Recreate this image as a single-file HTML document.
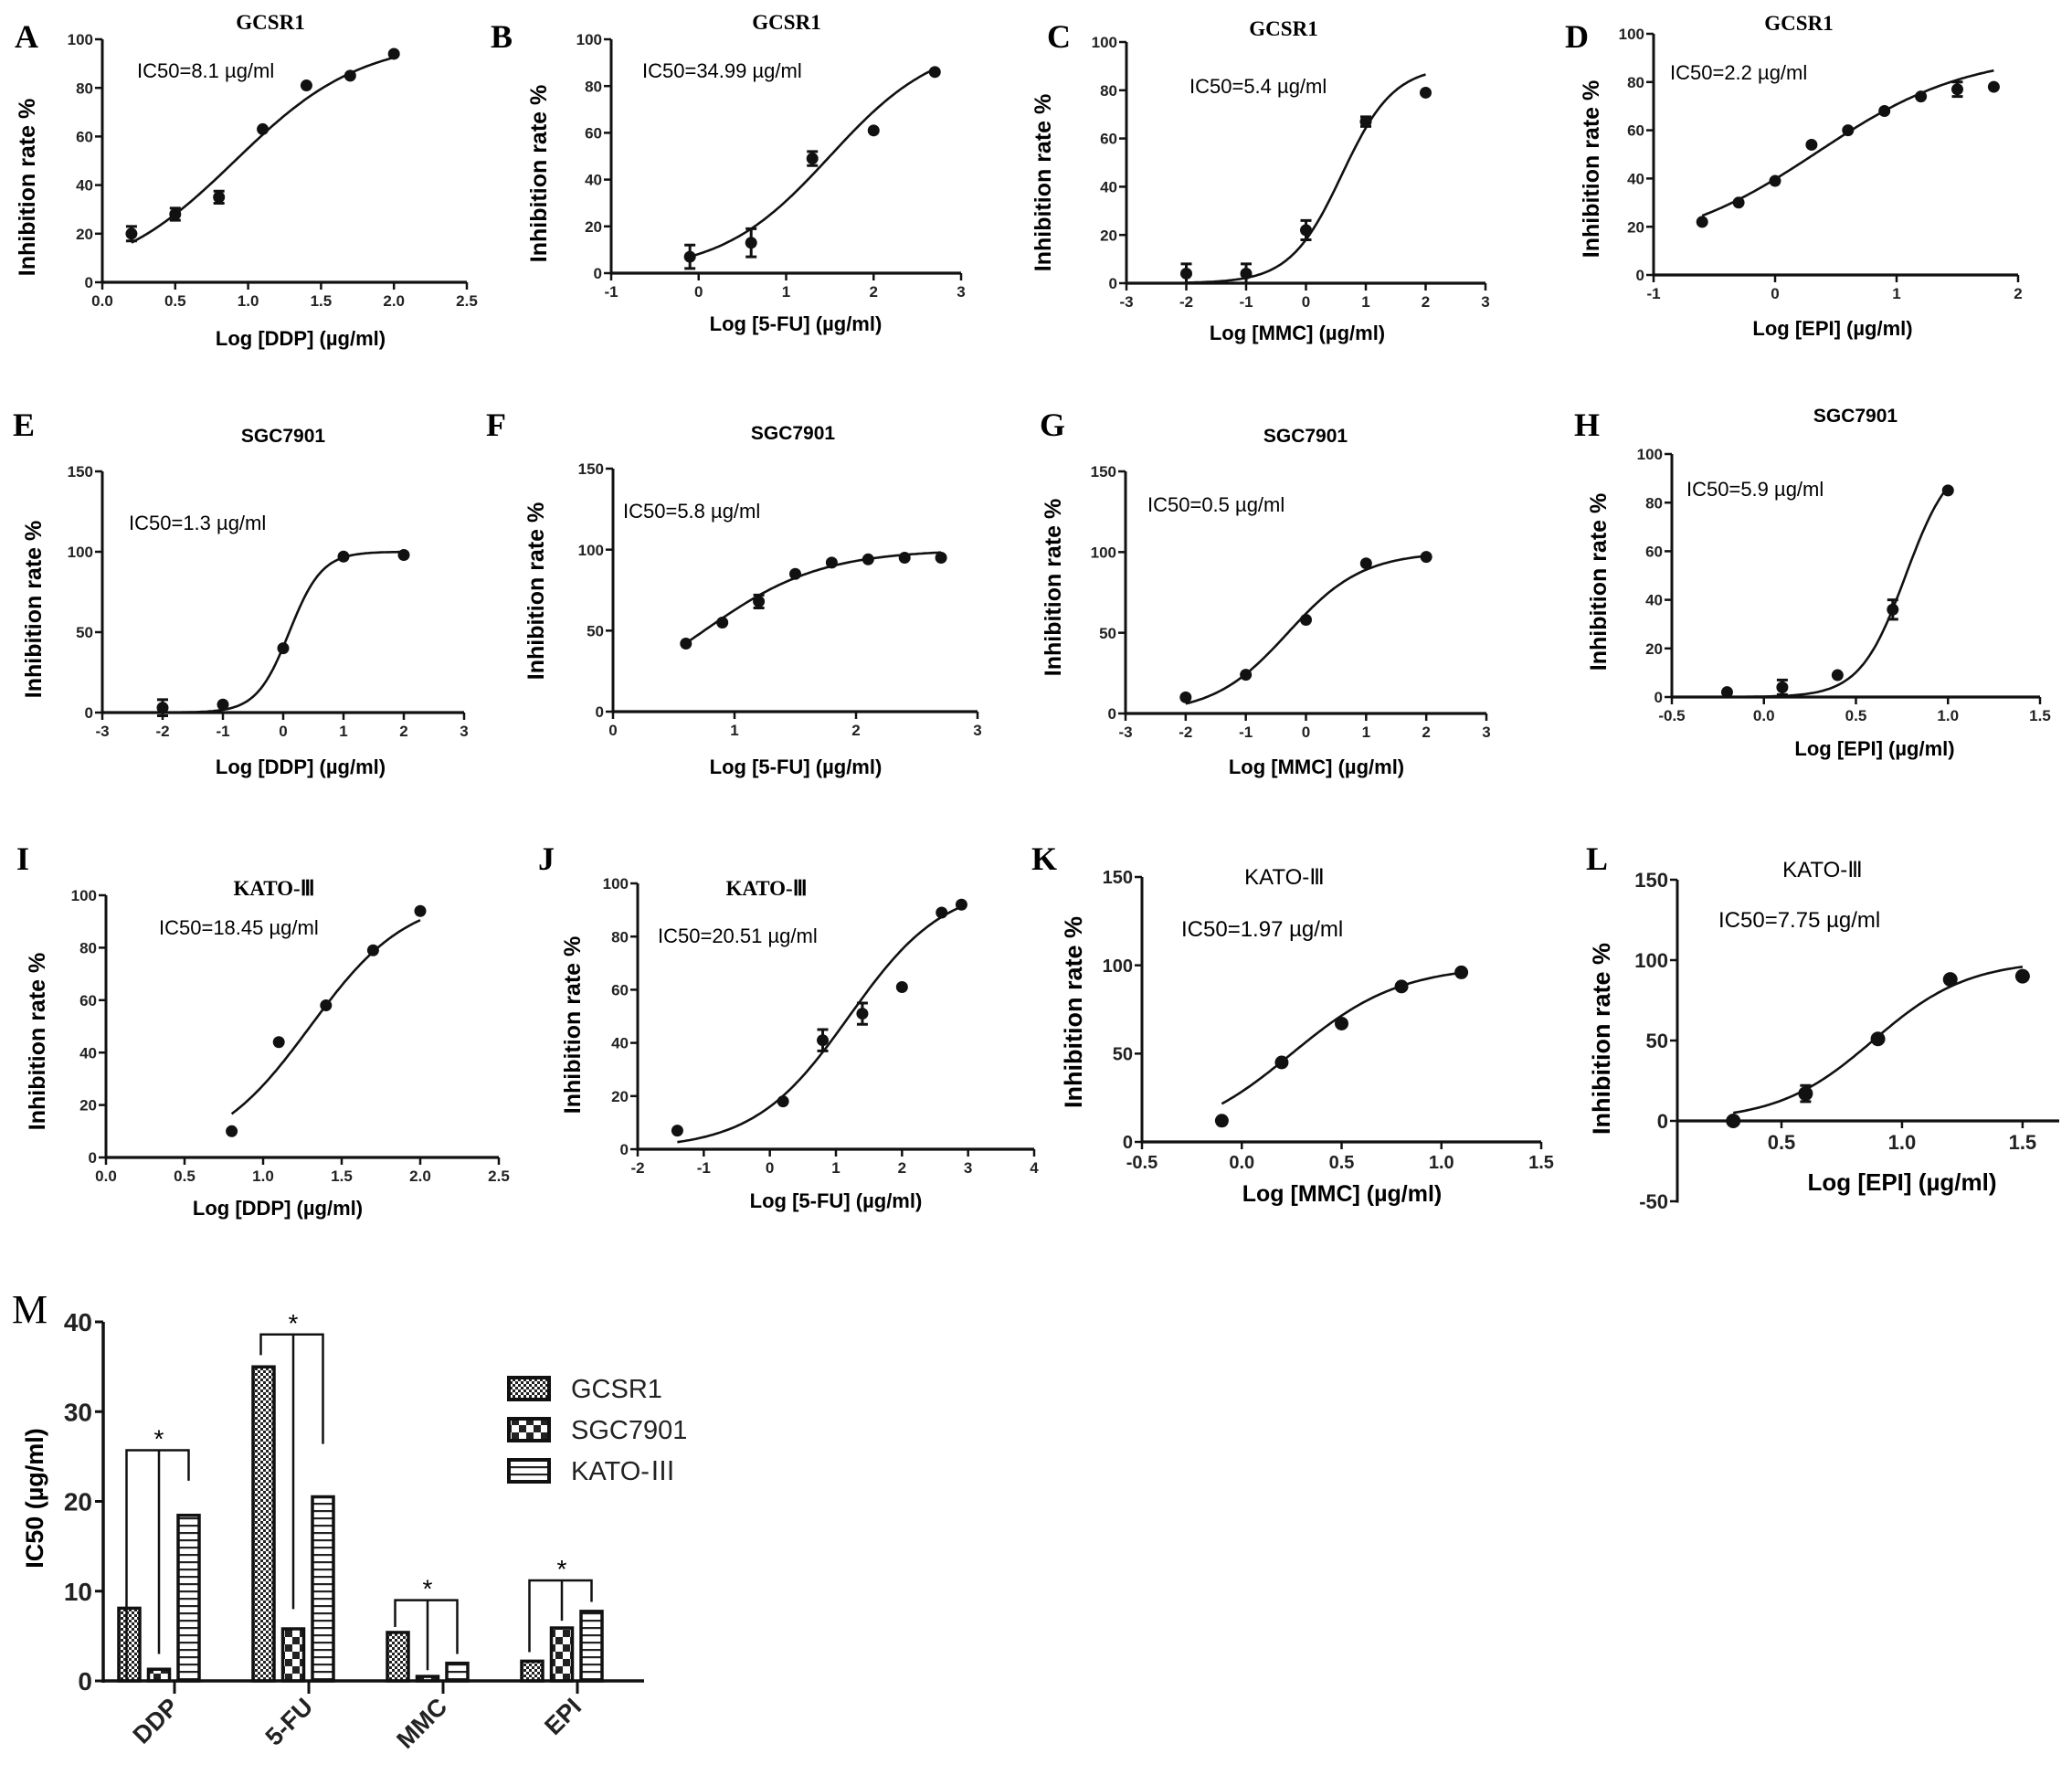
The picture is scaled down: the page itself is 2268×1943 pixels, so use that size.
<!DOCTYPE html>
<html><head><meta charset="utf-8"><style>
html,body{margin:0;padding:0;background:#fff}
svg{display:block}
.tk{font-family:"Liberation Sans",sans-serif;font-weight:bold;fill:#222}
.ttl{font-family:"Liberation Serif",serif;font-weight:bold;font-size:23px;text-anchor:middle}
.ttls{font-family:"Liberation Sans",sans-serif;font-weight:bold;font-size:21px;text-anchor:middle}
.ttlk{font-family:"Liberation Sans",sans-serif;font-size:24px;text-anchor:middle}
.let{font-family:"Liberation Serif",serif;font-weight:bold;font-size:36px}
.ic{font-family:"Liberation Sans",sans-serif;font-size:22px}
.xt{font-family:"Liberation Sans",sans-serif;font-weight:bold;font-size:22px;text-anchor:middle}
.yt{font-family:"Liberation Sans",sans-serif;font-weight:bold;font-size:25px;text-anchor:middle}
</style></head><body>
<svg id="fig" width="2268" height="1943" viewBox="0 0 2268 1943" xmlns="http://www.w3.org/2000/svg">
<defs>
<pattern id="pGC" width="6" height="6" patternUnits="userSpaceOnUse"><rect width="6" height="6" fill="#fff"/><rect width="3" height="3" fill="#222"/><rect x="3" y="3" width="3" height="3" fill="#222"/></pattern>
<pattern id="pSG" width="16" height="16" patternUnits="userSpaceOnUse"><rect width="16" height="16" fill="#fff"/><rect width="8" height="8" fill="#222"/><rect x="8" y="8" width="8" height="8" fill="#222"/></pattern>
<pattern id="pKA" width="8" height="8" patternUnits="userSpaceOnUse"><rect width="8" height="8" fill="#fff"/><rect y="5" width="8" height="2.2" fill="#222"/></pattern>
</defs>
<g id="static">
<text class="let" x="16" y="52">A</text>
<text class="let" x="537" y="52">B</text>
<text class="let" x="1146" y="52">C</text>
<text class="let" x="1713" y="52">D</text>
<text class="let" x="14" y="477">E</text>
<text class="let" x="532" y="477">F</text>
<text class="let" x="1138" y="477">G</text>
<text class="let" x="1723" y="477">H</text>
<text class="let" x="18" y="952">I</text>
<text class="let" x="589" y="952">J</text>
<text class="let" x="1129" y="952">K</text>
<text class="let" x="1736" y="952">L</text>
<text x="13" y="1448" style="font-family:'Liberation Serif',serif;font-size:44px">M</text>

<text class="ttl" x="296" y="32">GCSR1</text>
<text class="ttl" x="861" y="32">GCSR1</text>
<text class="ttl" x="1405" y="39">GCSR1</text>
<text class="ttl" x="1969" y="33">GCSR1</text>
<text class="ttls" x="310" y="484">SGC7901</text>
<text class="ttls" x="868" y="481">SGC7901</text>
<text class="ttls" x="1429" y="484">SGC7901</text>
<text class="ttls" x="2031" y="462">SGC7901</text>
<text class="ttl" x="300" y="980">KATO-Ⅲ</text>
<text class="ttl" x="839" y="980">KATO-Ⅲ</text>
<text class="ttlk" x="1406" y="968">KATO-Ⅲ</text>
<text class="ttlk" x="1995" y="960">KATO-Ⅲ</text>

<text class="ic" x="150" y="85">IC50=8.1 µg/ml</text>
<text class="ic" x="703" y="85">IC50=34.99 µg/ml</text>
<text class="ic" x="1302" y="102">IC50=5.4 µg/ml</text>
<text class="ic" x="1828" y="87">IC50=2.2 µg/ml</text>
<text class="ic" x="141" y="580">IC50=1.3 µg/ml</text>
<text class="ic" x="682" y="567">IC50=5.8 µg/ml</text>
<text class="ic" x="1256" y="560">IC50=0.5 µg/ml</text>
<text class="ic" x="1846" y="543">IC50=5.9 µg/ml</text>
<text class="ic" x="174" y="1023">IC50=18.45 µg/ml</text>
<text class="ic" x="720" y="1032">IC50=20.51 µg/ml</text>
<text class="ic" x="1293" y="1025" style="font-size:24px">IC50=1.97 µg/ml</text>
<text class="ic" x="1881" y="1015" style="font-size:24px">IC50=7.75 µg/ml</text>

<text class="xt" x="329" y="378">Log [DDP] (µg/ml)</text>
<text class="xt" x="871" y="362">Log [5-FU] (µg/ml)</text>
<text class="xt" x="1420" y="372">Log [MMC] (µg/ml)</text>
<text class="xt" x="2006" y="367">Log [EPI] (µg/ml)</text>
<text class="xt" x="329" y="847">Log [DDP] (µg/ml)</text>
<text class="xt" x="871" y="847">Log [5-FU] (µg/ml)</text>
<text class="xt" x="1441" y="847">Log [MMC] (µg/ml)</text>
<text class="xt" x="2052" y="827">Log [EPI] (µg/ml)</text>
<text class="xt" x="304" y="1330">Log [DDP] (µg/ml)</text>
<text class="xt" x="915" y="1322">Log [5-FU] (µg/ml)</text>
<text class="xt" x="1469" y="1315" style="font-size:25px">Log [MMC] (µg/ml)</text>
<text class="xt" x="2082" y="1303" style="font-size:26px">Log [EPI] (µg/ml)</text>

<text class="yt" transform="translate(38,205) rotate(-90)">Inhibition rate %</text>
<text class="yt" transform="translate(598,190) rotate(-90)">Inhibition rate %</text>
<text class="yt" transform="translate(1150,200) rotate(-90)">Inhibition rate %</text>
<text class="yt" transform="translate(1750,185) rotate(-90)">Inhibition rate %</text>
<text class="yt" transform="translate(45,667) rotate(-90)">Inhibition rate %</text>
<text class="yt" transform="translate(595,647) rotate(-90)">Inhibition rate %</text>
<text class="yt" transform="translate(1161,643) rotate(-90)">Inhibition rate %</text>
<text class="yt" transform="translate(1758,637) rotate(-90)">Inhibition rate %</text>
<text class="yt" transform="translate(49,1140) rotate(-90)">Inhibition rate %</text>
<text class="yt" transform="translate(635,1122) rotate(-90)">Inhibition rate %</text>
<text class="yt" transform="translate(1184,1108) rotate(-90)" style="font-size:27px">Inhibition rate %</text>
<text class="yt" transform="translate(1762,1137) rotate(-90)" style="font-size:27px">Inhibition rate %</text>

<text class="yt" transform="translate(47,1640) rotate(-90)" style="font-size:27px">IC50 (µg/ml)</text>
</g>
</svg>
<script>
// ---------- data ----------
const aX=[0.2,0.5,0.8,1.1,1.4,1.7,2.0]; const aY=[20,28,35,63,81,85,94]; const aE=[3,2.5,2.5,0,0,0,0]; const aFit=[0,100,0.91,1.0];
const bX=[-0.1,0.6,1.3,2.0,2.7]; const bY=[7,13,49,61,86]; const bE=[5,6,3,0,0]; const bFit=[0,100,1.5,0.7];
const cX=[-2,-1,0,1,2]; const cY=[4,4,22,67,79]; const cE=[4,4,4,2,0]; const cFit=[0,90,0.6,1.0];
const dX=[-0.6,-0.3,0,0.3,0.6,0.9,1.2,1.5,1.8]; const dY=[22,30,39,54,60,68,74,77,78]; const dE=[0,0,0,0,0,0,0,3,0]; const dFit=[10,92,0.35,0.7];
const eX=[-2,-1,0,1,2]; const eY=[3,5,40,97,98]; const eE=[5,0,0,0,0]; const eFit=[0,100,0.1,1.6];
const fX=[0.6,0.9,1.2,1.5,1.8,2.1,2.4,2.7]; const fY=[42,55,68,85,92,94,95,95]; const fE=[0,0,4,0,0,0,0,0]; const fFit=[0,100,0.75,0.9];
const gX=[-2,-1,0,1,2]; const gY=[10,24,58,93,97]; const gE=[0,0,0,0,0]; const gFit=[0,100,-0.3,0.7];
const hX=[-0.2,0.1,0.4,0.7,1.0]; const hY=[2,4,9,36,85]; const hE=[0,3,0,4,0]; const hFit=[0,100,0.77,3.5];
const iX=[0.8,1.1,1.4,1.7,2.0]; const iY=[10,44,58,79,94]; const iE=[0,0,0,0,0]; const iFit=[0,100,1.3,1.4];
const jX=[-1.4,0.2,0.8,1.4,2.0,2.6,2.9]; const jY=[7,18,41,51,61,89,92]; const jE=[0,0,4,4,0,0,0]; const jFit=[0,100,1.2,0.6];
const kX=[-0.1,0.2,0.5,0.8,1.1]; const kY=[12,45,67,88,96]; const kE=[0,0,0,0,0]; const kFit=[0,100,0.25,1.6];
const lX=[0.3,0.6,0.9,1.2,1.5]; const lY=[0,17,51,88,90]; const lE=[0,5,0,0,0]; const lFit=[0,100,0.88,2.2];

const ticks100=[0,20,40,60,80,100]; const ticks150=[0,50,100,150]; const ticksL=[-50,0,50,100,150];
const xtA=["0.0","0.5","1.0","1.5","2.0","2.5"]; const xtB=["-1","0","1","2","3"]; const xtC=["-3","-2","-1","0","1","2","3"];
const xtD=["-1","0","1","2"]; const xtF=["0","1","2","3"]; const xtH=["-0.5","0.0","0.5","1.0","1.5"];
const xtJ=["-2","-1","0","1","2","3","4"]; const xtL=["0.5","1.0","1.5"];

const barCats=["DDP","5-FU","MMC","EPI"];
const barSeries=["GCSR1","SGC7901","KATO-Ⅲ"];
const gcsr1IC50=[8.1,34.99,5.4,2.2];
const sgc7901IC50=[1.3,5.8,0.5,5.9];
const katoIC50=[18.45,20.51,1.97,7.75];
const barTicks=[0,10,20,30,40];
const bracketTop=[25.7,38.6,9.0,11.2];
const bracketLeftEnd=[0,36.3,6.0,3.2];
const bracketMidEnd=[3.0,8,1.2,6.7];
const bracketRightEnd=[22.3,26.4,3.0,8.8];

// ---------- drawing ----------
const NS="http://www.w3.org/2000/svg";
const svg=document.getElementById('fig');
function mk(tag,attrs,parent){const e=document.createElementNS(NS,tag);for(const k in attrs)e.setAttribute(k,attrs[k]);(parent||svg).appendChild(e);return e;}

function panel(id,cfg){
  const g=mk('g',{});
  
  
  const sx=v=>cfg.px0+(v-cfg.xmin)/(cfg.xmax-cfg.xmin)*(cfg.px1-cfg.px0);
  const sy=v=>cfg.py0+(v-cfg.ymin)/(cfg.ymax-cfg.ymin)*(cfg.py1-cfg.py0);
  const fs=cfg.fs||17;
  const y0=sy(0);
  const xa=mk('line',{x1:cfg.px0,x2:cfg.px1,y1:y0,y2:y0,stroke:'#111','stroke-width':3.2},g);
  
  
  const ya=mk('line',{x1:cfg.px0,x2:cfg.px0,y1:sy(cfg.ymin)+1.5,y2:sy(cfg.ymax),stroke:'#111','stroke-width':3},g);
  
  
  cfg.xt.forEach(s=>{const v=parseFloat(s);const x=sx(v);
    mk('line',{x1:x,x2:x,y1:y0,y2:y0+8,stroke:'#111','stroke-width':2.5},g);
    const t=mk('text',{x:x,y:y0+9+fs,'text-anchor':'middle','class':'tk','font-size':fs},g);
    
    
    t.textContent=s;});
  cfg.yt.forEach(v=>{const y=sy(v);
    mk('line',{x1:cfg.px0-8,x2:cfg.px0,y1:y,y2:y,stroke:'#111','stroke-width':2.5},g);
    const t=mk('text',{x:cfg.px0-10,y:y+fs*0.36,'text-anchor':'end','class':'tk','font-size':fs},g);
    
    
    t.textContent=String(v);});
  const f=cfg.fit; const xs=cfg.X; const lo=cfg.c0!==undefined?cfg.c0:xs[0]; const hi=xs[xs.length-1];
  let d='';
  for(let i=0;i<=120;i++){const x=lo+(hi-lo)*i/120;const y=f[0]+(f[1]-f[0])/(1+Math.pow(10,(f[2]-x)*f[3]));d+=(i?'L':'M')+sx(x).toFixed(1)+','+sy(y).toFixed(1);}
  const p=mk('path',{d:d,fill:'none',stroke:'#111','stroke-width':2.6},g);
  
  
  const r=cfg.r||6.5;
  xs.forEach((x,i)=>{const cx=sx(x),cy=sy(cfg.Y[i]);
    if(cfg.E[i]>0){const t=sy(cfg.Y[i]+cfg.E[i]),b=sy(cfg.Y[i]-cfg.E[i]);
      const eb=mk('path',{d:`M${cx},${t}L${cx},${b}M${cx-6},${t}L${cx+6},${t}M${cx-6},${b}L${cx+6},${b}`,stroke:'#111','stroke-width':3,fill:'none'},g);
      
      }
    const c=mk('circle',{cx:cx,cy:cy,r:r,fill:'#111'},g);
    
    
  });
}
panel('a',{px0:112,px1:511,xmin:0,xmax:2.5,py0:309,py1:43,ymin:0,ymax:100,xt:xtA,yt:ticks100,X:aX,Y:aY,E:aE,fit:aFit});
panel('b',{px0:669,px1:1052,xmin:-1,xmax:3,py0:299,py1:43,ymin:0,ymax:100,xt:xtB,yt:ticks100,X:bX,Y:bY,E:bE,fit:bFit});
panel('c',{px0:1233,px1:1626,xmin:-3,xmax:3,py0:310,py1:46,ymin:0,ymax:100,xt:xtC,yt:ticks100,X:cX,Y:cY,E:cE,fit:cFit});
panel('d',{px0:1810,px1:2209,xmin:-1,xmax:2,py0:301,py1:37,ymin:0,ymax:100,xt:xtD,yt:ticks100,X:dX,Y:dY,E:dE,fit:dFit});
panel('e',{px0:112,px1:508,xmin:-3,xmax:3,py0:780,py1:516,ymin:0,ymax:150,xt:xtC,yt:ticks150,X:eX,Y:eY,E:eE,fit:eFit});
panel('f',{px0:671,px1:1070,xmin:0,xmax:3,py0:779,py1:513,ymin:0,ymax:150,xt:xtF,yt:ticks150,X:fX,Y:fY,E:fE,fit:fFit});
panel('g',{px0:1232,px1:1627,xmin:-3,xmax:3,py0:781,py1:516,ymin:0,ymax:150,xt:xtC,yt:ticks150,X:gX,Y:gY,E:gE,fit:gFit});
panel('h',{px0:1830,px1:2233,xmin:-0.5,xmax:1.5,py0:763,py1:497,ymin:0,ymax:100,xt:xtH,yt:ticks100,X:hX,Y:hY,E:hE,fit:hFit,c0:-0.2});
panel('i',{px0:116,px1:546,xmin:0,xmax:2.5,py0:1267,py1:980,ymin:0,ymax:100,xt:xtA,yt:ticks100,X:iX,Y:iY,E:iE,fit:iFit});
panel('j',{px0:698,px1:1132,xmin:-2,xmax:4,py0:1258,py1:967,ymin:0,ymax:100,xt:xtJ,yt:ticks100,X:jX,Y:jY,E:jE,fit:jFit});
panel('k',{px0:1250,px1:1687,xmin:-0.5,xmax:1.5,py0:1250,py1:960,ymin:0,ymax:150,xt:xtH,yt:ticks150,X:kX,Y:kY,E:kE,fit:kFit,fs:20,r:7.5});
panel('l',{px0:1836,px1:2254,xmin:0.068,xmax:1.652,py0:1315,py1:963,ymin:-50,ymax:150,xt:xtL,yt:ticksL,X:lX,Y:lY,E:lE,fit:lFit,fs:22,r:8});

// ---------- bar chart M ----------
(function(){
  const g=mk('g',{});
  
  
  const ax0=113, ay0=1840, ay1=1447, axEnd=705;
  const sy=v=>ay0-(v/40)*(ay0-ay1);
  const cx=(i,s)=>174+i*147+(s-1)*32.5;
  const series=[gcsr1IC50,sgc7901IC50,katoIC50];
  const pats=['url(#pGC)','url(#pSG)','url(#pKA)'];
  barCats.forEach((c,i)=>{
    series.forEach((arr,s)=>{
      const v=arr[i]; const x=cx(i,s)-11.5; const y=sy(v);
      const b=mk('rect',{x:x,y:y,width:23,height:ay0-y,fill:pats[s],stroke:'#111','stroke-width':3.5},g);
      
      
    });
    const xl=cx(i,0)-3,xm=cx(i,1),xr=cx(i,2);const top=sy(bracketTop[i]);
    const br=mk('path',{d:`M${xl},${sy(bracketLeftEnd[i])}L${xl},${top}L${xr},${top}L${xr},${sy(bracketRightEnd[i])}M${xm},${top}L${xm},${sy(bracketMidEnd[i])}`,fill:'none',stroke:'#111','stroke-width':2.5},g);
    
    
    const st=mk('text',{x:xm,y:top-3,'text-anchor':'middle','font-family':'Liberation Sans, sans-serif','font-size':28},g);
    
    
    st.textContent='*';
    const tx=cx(i,1)+17;
    mk('line',{x1:tx,x2:tx,y1:ay0,y2:ay0+14,stroke:'#111','stroke-width':3},g);
    const cl=mk('text',{'text-anchor':'end','class':'tk','font-size':27,transform:`translate(${tx+6},${ay0+30}) rotate(-45)`},g);
    
    
    cl.textContent=c;
  });
  const xa=mk('line',{x1:ax0,x2:axEnd,y1:ay0,y2:ay0,stroke:'#111','stroke-width':3.5},g);
  
  
  const ya=mk('line',{x1:ax0,x2:ax0,y1:ay0+2,y2:ay1,stroke:'#111','stroke-width':3.5},g);
  
  
  barTicks.forEach(v=>{const y=sy(v);
    mk('line',{x1:ax0-9,x2:ax0,y1:y,y2:y,stroke:'#111','stroke-width':3},g);
    const t=mk('text',{x:ax0-12,y:y+10,'text-anchor':'end','class':'tk','font-size':28},g);
    
    
    t.textContent=String(v);});
  barSeries.forEach((s,k)=>{const y=1508+k*45;
    const r=mk('rect',{x:557,y:y,width:44,height:24,fill:pats[k],stroke:'#111','stroke-width':4},g);
    
    
    const t=mk('text',{x:625,y:y+22,'font-family':'Liberation Sans, Noto Sans CJK SC, sans-serif','font-size':29,fill:'#222'},g);
    
    
    t.textContent=s;});
})();
</script>
</body></html>
